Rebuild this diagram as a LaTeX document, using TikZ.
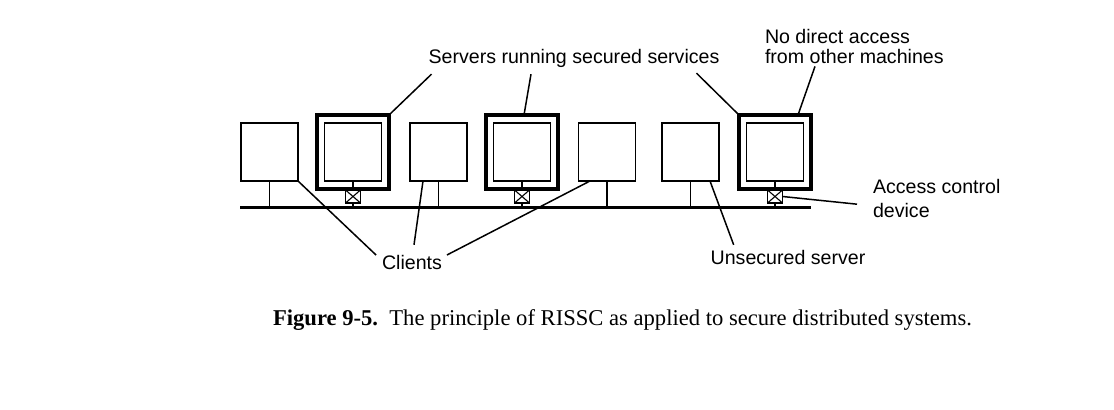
\documentclass[tikz,border=0pt]{standalone}
\usepackage{fontspec}
\setmainfont{Liberation Serif}
\newfontfamily\lblfont{Liberation Sans}
\usepackage{tikz}

\begin{document}
\begin{tikzpicture}[x=0.5pt, y=-0.5pt,
			every node/.style = {inner sep=0pt, outer sep=0pt},
			host/.style = {draw, line width=0.95pt,
				minimum width=28.5pt, minimum height=29pt},
			secframe/.style = {draw, line width=1.6pt,
				minimum width=36pt, minimum height=37pt},
			acd/.style = {draw, line width=0.7pt,
				minimum width=7.5pt, minimum height=6.5pt,
				path picture={\draw[line width=0.55pt]
					(path picture bounding box.north west) -- (path picture bounding box.south east)
					(path picture bounding box.north east) -- (path picture bounding box.south west);}},
			lbl/.style = {font=\lblfont\fontsize{9.8}{10}\selectfont, align=left},
			leader/.style = {line width=0.75pt},
			stem/.style = {line width=0.95pt}]
	\useasboundingbox (0,0) rectangle (1114,410);
	% network
	\coordinate (busL) at (240,208);
	\coordinate (busR) at (811,208);
	\draw[line width=1.5pt] (busL) -- (busR);
	% machines on the network
	\node[host] (cl1) at (269.5,152) {};
	\node[secframe] (sv1f) at (353,152) {};
	\node[host] (sv1) at (353,152) {};
	\node[acd] (acd1) at (353,196.5) {};
	\node[host] (cl2) at (438.5,152) {};
	\node[secframe] (sv2f) at (522,152) {};
	\node[host] (sv2) at (522,152) {};
	\node[acd] (acd2) at (522,196.5) {};
	\node[host] (cl3) at (607,152) {};
	\node[host] (uns) at (690.5,152) {};
	\node[secframe] (sv3f) at (775,152) {};
	\node[host] (sv3) at (775,152) {};
	\node[acd] (acd3) at (775,196.5) {};
	\draw[stem] (cl1.south) -- (cl1.south |- busL);
	\draw[stem] (cl2.south) -- (cl2.south |- busL);
	\draw[stem] (cl3.south) -- (cl3.south |- busL);
	\draw[stem] (uns.south) -- (uns.south |- busL);
	\draw[stem] (sv1.south) -- (acd1.north) (acd1.south) -- (acd1.south |- busL);
	\draw[stem] (sv2.south) -- (acd2.north) (acd2.south) -- (acd2.south |- busL);
	\draw[stem] (sv3.south) -- (acd3.north) (acd3.south) -- (acd3.south |- busL);
	% labels
	\node[lbl] (srvlbl) at (574,58) {Servers running secured services};
	\node[lbl, anchor=north west] (nolbl) at (765,29) {No direct access\\from other machines};
	\node[lbl, anchor=north west] (acdlbl) at (873,179) {Access control\\[2pt]device};
	\node[lbl] (clilbl) at (412,262) {Clients};
	\node[lbl] (unslbl) at (788,258) {Unsecured server};
	\draw[leader] ([xshift=1.5pt,yshift=-3.5pt]srvlbl.south west) -- (sv1f.north east);
	\draw[leader] ([xshift=-21.5pt,yshift=-3.5pt]srvlbl.south) -- ([xshift=1pt]sv2f.north);
	\draw[leader] ([xshift=-11.5pt,yshift=-3pt]srvlbl.south east) -- (sv3f.north west);
	\draw[leader] ([xshift=25pt,yshift=-1.5pt]nolbl.south west) -- ([xshift=-6.5pt]sv3f.north east);
	\draw[leader] ([xshift=-8pt,yshift=-3pt]acdlbl.west) -- (acd3.east);
	\draw[leader] (cl1.south east) -- ([xshift=-3pt,yshift=3.5pt]clilbl.west);
	\draw[leader] ([xshift=-7.75pt]cl2.south) -- ([xshift=1pt,yshift=5pt]clilbl.north);
	\draw[leader] ([xshift=-8.5pt]cl3.south) -- ([xshift=2.5pt,yshift=3.5pt]clilbl.east);
	\draw[leader] ([xshift=9.75pt]uns.south) -- ([xshift=11.5pt,yshift=3pt]unslbl.north west);
	% caption
	\node[font=\fontsize{11.3}{13}\selectfont] (caption) at (622.5,320)
		{\textbf{Figure 9-5.}\ \ The principle of RISSC as applied to secure distributed systems.};
\end{tikzpicture}
\end{document}
